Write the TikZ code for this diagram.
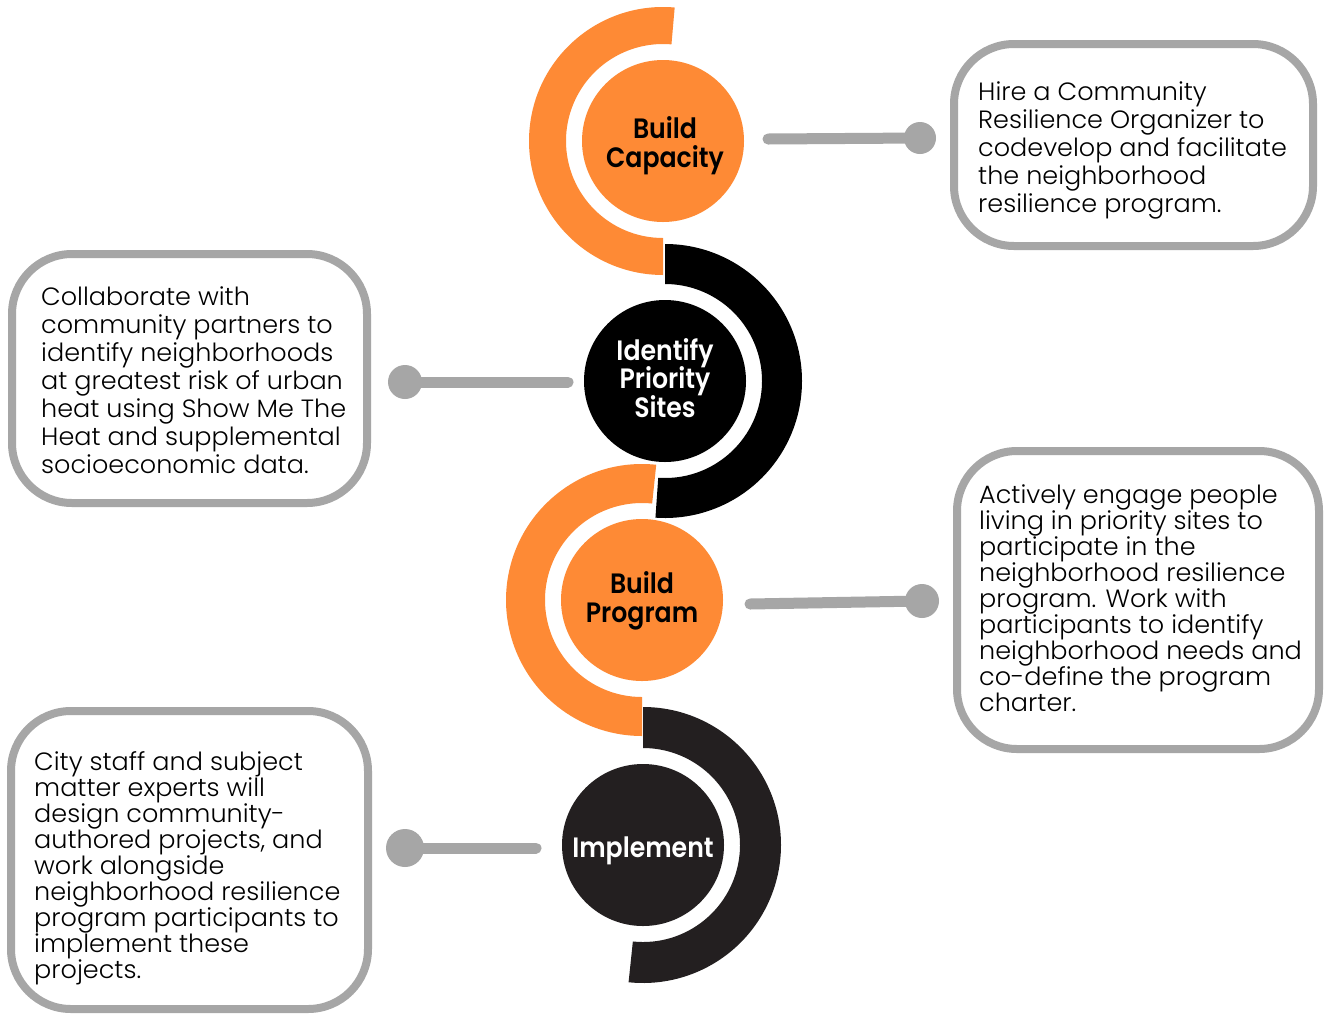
\documentclass[tikz,border=0pt]{standalone}
\usepackage{fontspec}
\setmainfont{Poppins}
\newfontfamily\boxfont[FakeStretch=1.02]{Poppins Light}
\newfontfamily\circfont[FakeStretch=0.9]{Poppins SemiBold}
\usetikzlibrary{calc}
\definecolor{ora}{HTML}{FE8A35}
\definecolor{blk}{HTML}{000000}
\definecolor{dblk}{HTML}{231F20}
\definecolor{gry}{HTML}{A6A6A6}
\tikzset{
  boxstyle/.style={draw=gry, line width=8pt, rounded corners=60pt, fill=white, inner sep=0pt},
  boxtext/.style={anchor=base west, align=left, inner sep=0pt, font=\boxfont\fontsize{25}{#1}\selectfont},
  disc/.style={circle, fill=#1, inner sep=0pt, minimum size=162pt},
  disclabel/.style={anchor=base, align=center, inner sep=0pt, text=#1, font=\circfont\fontsize{28}{28.5}\selectfont},
  conn/.style={draw=gry, line width=11pt, line cap=round},
  dotend/.style={fill=gry}
}
\begin{document}
\lineskiplimit=-50pt\relax
\lineskip=0pt\relax
\begin{tikzpicture}[x=1pt,y=-1pt]
\useasboundingbox (0,0) rectangle (1328,1013);
\fill[white] (0,0) rectangle (1328,1013);

% ---- swirl bands ----
% Build Capacity (orange, left side)
\coordinate (k1) at (663,141);
\fill[ora] ($(k1)+(-85:134)$) arc[start angle=-85, end angle=-270, radius=134]
  -- ($(k1)+(-270:97)$) arc[start angle=-270, end angle=-85, radius=97] -- cycle;
% Identify (black, right side)
\coordinate (k2) at (665,381);
\fill[blk] ($(k2)+(-90:137)$) arc[start angle=-90, end angle=94, radius=137]
  -- ($(k2)+(94:97)$) arc[start angle=94, end angle=-90, radius=97] -- cycle;
% Build Program (orange, left side)
\coordinate (k3) at (642,600);
\fill[ora] ($(k3)+(-84:136)$) arc[start angle=-84, end angle=-270, radius=136]
  -- ($(k3)+(-270:97)$) arc[start angle=-270, end angle=-84, radius=97] -- cycle;
% Implement (dark, right side)
\coordinate (k4) at (643,845);
\fill[dblk] ($(k4)+(-90:138)$) arc[start angle=-90, end angle=96, radius=138]
  -- ($(k4)+(96:97)$) arc[start angle=96, end angle=-90, radius=97] -- cycle;

% ---- discs ----
\node[disc=ora] (c1) at (k1) {};
\node[disc=blk] (c2) at (k2) {};
\node[disc=ora] (c3) at (k3) {};
\node[disc=dblk] (c4) at (k4) {};

% anchor=base is the baseline of the last line
\node[disclabel=black] (l1) at (665,167) {Build\\Capacity};
\node[disclabel=white] (l2) at (665,417) {Identify\\Priority\\Sites};
\node[disclabel=black] (l3) at (642,622) {Build\\Program};
\node[disclabel=white] (l4) at (643,857) {Implement};

% ---- boxes ----
\node[boxstyle, minimum width=359pt, minimum height=202pt] (b1) at (1133.5,145) {};
\node[boxstyle, minimum width=355pt, minimum height=249pt] (b2) at (189.5,378.5) {};
\node[boxstyle, minimum width=362pt, minimum height=298pt] (b3) at (1138,600) {};
\node[boxstyle, minimum width=357pt, minimum height=298pt] (b4) at (189.5,860) {};

\node[boxtext=28] (t1) at (978,212) {Hire a Community\\Resilience Organizer to\\codevelop and facilitate\\the neighborhood\\resilience program.};
\node[boxtext=28] (t2) at (41,473) {Collaborate with\\community partners to\\identify neighborhoods\\at greatest risk of urban\\heat using Show Me The\\Heat and supplemental\\socioeconomic data.};
\node[boxtext=26] (t3) at (979,711) {Actively engage people\\living in priority sites to\\participate in the\\neighborhood resilience\\program. Work with\\participants to identify\\neighborhood needs and\\co-define the program\\charter.};
\node[boxtext=26] (t4) at (34,978) {City staff and subject\\matter experts will\\design community-\\authored projects, and\\work alongside\\neighborhood resilience\\program participants to\\implement these\\projects.};

% ---- connectors ----
\coordinate (s1) at (768,139);  \coordinate (d1) at (920,138);
\coordinate (s2) at (568,382);  \coordinate (d2) at (405,382);
\coordinate (s3) at (750,604);  \coordinate (d3) at (922,601);
\coordinate (s4) at (536,848);  \coordinate (d4) at (405,848);
\draw[conn] (s1) -- (d1);
\draw[conn] (s2) -- (d2);
\draw[conn] (s3) -- (d3);
\draw[conn] (s4) -- (d4);
\fill[dotend] (d1) circle[radius=16];
\fill[dotend] (d2) circle[radius=17];
\fill[dotend] (d3) circle[radius=17];
\fill[dotend] (d4) circle[radius=19];
\end{tikzpicture}
\end{document}
